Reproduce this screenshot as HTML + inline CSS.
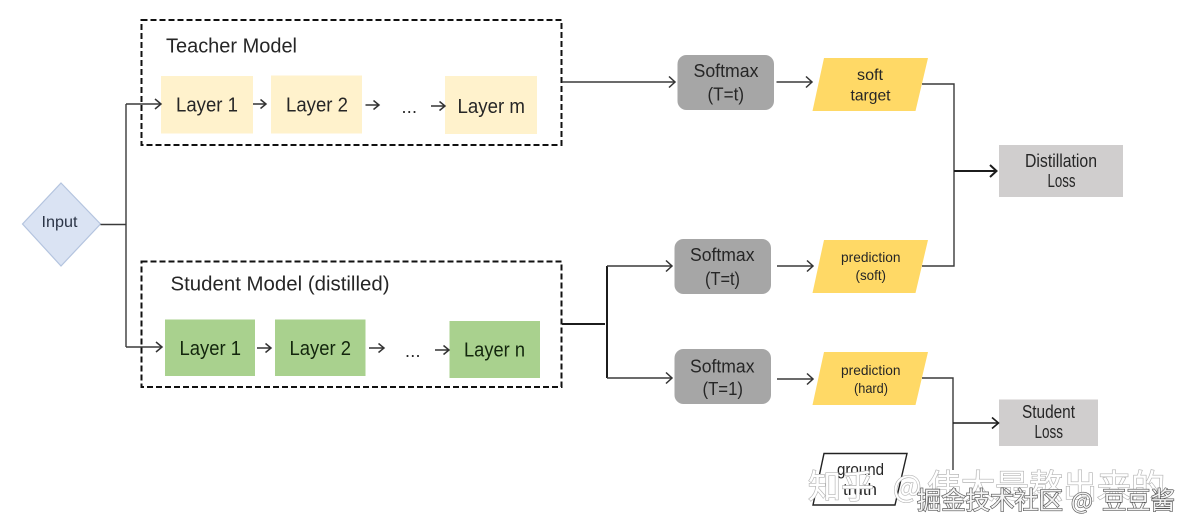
<!DOCTYPE html>
<html><head><meta charset="utf-8">
<style>
html,body{margin:0;padding:0;background:#fff;}
svg{display:block;filter:blur(0.35px);}
text{font-family:"Liberation Sans","Noto Sans CJK SC",sans-serif;fill:#262626;}
.ln{stroke:#3a3a3a;stroke-width:1.4;fill:none;}
.th{stroke:#1c1c1c;stroke-width:2;fill:none;}
.ah{stroke:#333;stroke-width:1.5;fill:none;}
.dash{fill:none;stroke:#111;stroke-width:2;stroke-dasharray:6 3;}
.wm1{fill:#fff;stroke:#b4b4b4;stroke-width:1.3;paint-order:stroke;font-size:33px;font-family:"Noto Sans CJK SC",sans-serif;}
.wm2{fill:#f4f4f4;stroke:#555;stroke-width:1.3;paint-order:stroke;font-size:24.4px;font-family:"Noto Sans CJK SC",sans-serif;}
</style></head>
<body>
<svg width="1193" height="532" viewBox="0 0 1193 532" xmlns="http://www.w3.org/2000/svg">
<rect width="1193" height="532" fill="#fff"/>

<!-- model containers -->
<rect class="dash" x="141.5" y="20" width="420" height="125"/>
<rect class="dash" x="141.5" y="261.5" width="420" height="125.5"/>
<text x="166" y="52.5" font-size="20" textLength="131" lengthAdjust="spacingAndGlyphs">Teacher Model</text>
<text x="170.5" y="290.5" font-size="20" textLength="219" lengthAdjust="spacingAndGlyphs">Student Model (distilled)</text>

<!-- teacher layers -->
<rect x="161" y="76" width="92" height="57.5" fill="#fff2cc"/>
<rect x="271" y="75.5" width="91" height="58" fill="#fff2cc"/>
<rect x="445" y="76" width="92" height="58" fill="#fff2cc"/>
<text x="176" y="111.5" font-size="20" textLength="62" lengthAdjust="spacingAndGlyphs">Layer 1</text>
<text x="286" y="111.5" font-size="20" textLength="62" lengthAdjust="spacingAndGlyphs">Layer 2</text>
<text x="457.5" y="113" font-size="20" textLength="67.5" lengthAdjust="spacingAndGlyphs">Layer m</text>
<text x="401.5" y="113" font-size="18" textLength="15.5" lengthAdjust="spacing">...</text>

<!-- student layers -->
<rect x="165" y="319.5" width="90" height="56.5" fill="#a9d18e"/>
<rect x="275" y="319.5" width="90.5" height="56.5" fill="#a9d18e"/>
<rect x="449.5" y="321" width="90.5" height="57" fill="#a9d18e"/>
<text x="179.5" y="355" font-size="20" textLength="61.5" lengthAdjust="spacingAndGlyphs" style="fill:#13260d">Layer 1</text>
<text x="289.5" y="355" font-size="20" textLength="61.5" lengthAdjust="spacingAndGlyphs" style="fill:#13260d">Layer 2</text>
<text x="464" y="356.5" font-size="20" textLength="61" lengthAdjust="spacingAndGlyphs" style="fill:#13260d">Layer n</text>
<text x="405" y="357" font-size="18" textLength="15.5" lengthAdjust="spacing">...</text>

<!-- input -->
<polygon points="61,183 100.5,224 61,266 22.5,224" fill="#dae3f3" stroke="#b4c4df" stroke-width="1.2"/>
<text x="41.5" y="227" font-size="16" textLength="36" lengthAdjust="spacingAndGlyphs" style="fill:#2b3446">Input</text>

<!-- softmax -->
<rect x="677.5" y="55" width="96.5" height="55" rx="9" fill="#a6a6a6"/>
<rect x="674.5" y="239" width="96.5" height="55" rx="9" fill="#a6a6a6"/>
<rect x="674.5" y="349" width="96.5" height="55" rx="9" fill="#a6a6a6"/>
<text x="693.5" y="77" font-size="18" textLength="65" lengthAdjust="spacingAndGlyphs">Softmax</text>
<text x="707.5" y="100.5" font-size="18" textLength="36.5" lengthAdjust="spacingAndGlyphs">(T=t)</text>
<text x="690" y="261" font-size="18" textLength="64.5" lengthAdjust="spacingAndGlyphs">Softmax</text>
<text x="705" y="285" font-size="18" textLength="35" lengthAdjust="spacingAndGlyphs">(T=t)</text>
<text x="690" y="372.5" font-size="18" textLength="64.5" lengthAdjust="spacingAndGlyphs">Softmax</text>
<text x="702.5" y="395" font-size="18" textLength="40.5" lengthAdjust="spacingAndGlyphs">(T=1)</text>

<!-- parallelograms -->
<polygon points="824,58 928,58 915.5,111 812.5,111" fill="#ffd966"/>
<polygon points="824,240 928,240 915.5,293 812.5,293" fill="#ffd966"/>
<polygon points="824,352 928,352 915.5,405 812.5,405" fill="#ffd966"/>
<text x="857" y="80" font-size="16" textLength="26" lengthAdjust="spacingAndGlyphs">soft</text>
<text x="850.500" y="100.500" font-size="16" textLength="40" lengthAdjust="spacingAndGlyphs">target</text>
<text x="841" y="262" font-size="14" textLength="59.500" lengthAdjust="spacingAndGlyphs">prediction</text>
<text x="855.500" y="280" font-size="14" textLength="30.500" lengthAdjust="spacingAndGlyphs">(soft)</text>
<text x="841" y="375" font-size="14" textLength="59.500" lengthAdjust="spacingAndGlyphs">prediction</text>
<text x="854" y="393" font-size="14" textLength="34" lengthAdjust="spacingAndGlyphs">(hard)</text>

<!-- losses -->
<rect x="999" y="145" width="124" height="52" fill="#d0cece"/>
<rect x="999" y="399.500" width="99" height="46.500" fill="#d0cece"/>
<text x="1025" y="167" font-size="18" textLength="72" lengthAdjust="spacingAndGlyphs">Distillation</text>
<text x="1047.500" y="187" font-size="18" textLength="28" lengthAdjust="spacingAndGlyphs">Loss</text>
<text x="1022" y="418" font-size="18" textLength="53" lengthAdjust="spacingAndGlyphs">Student</text>
<text x="1034.500" y="438" font-size="18" textLength="28.500" lengthAdjust="spacingAndGlyphs">Loss</text>

<!-- connectors -->
<path class="ln" d="M100.500 224.500H126M126 104V347M126 104H160M126 347H161"/>
<path class="ah" d="M155 99l6 5-6 5M156 342l6 5-6 5"/>
<path class="ah" d="M253 104H266M260.500 99.500l5.500 4.500-5.500 4.500M365.500 105H379M373.500 100.500l5.500 4.500-5.500 4.500M431 106H445M439.500 101.500l5.500 4.500-5.500 4.500"/>
<path class="ah" d="M257 348H271M265.500 343.500l5.500 4.500-5.500 4.500M369 348H384M378.500 343.500l5.500 4.500-5.500 4.500M435 350H449M443.500 345.500l5.500 4.500-5.500 4.500"/>
<path class="ln" d="M562 82H675"/><path class="ah" d="M669 76.500l6 5.500-6 5.500"/>
<path class="ln" d="M776.500 82H812"/><path class="ah" d="M806 76.500l6 5.500-6 5.500"/>
<path class="ln" d="M777 266H813"/><path class="ah" d="M807 260.500l6 5.500-6 5.500"/>
<path class="ln" d="M777 379H813"/><path class="ah" d="M807 373.500l6 5.500-6 5.500"/>
<path class="ln" d="M922 84H954V266H922"/>
<path class="th" d="M954 171H996"/><path class="th" d="M990 165l6.500 6-6.500 6"/>
<path class="ln" d="M922 378H953V470"/>
<path class="th" style="stroke-width:1.6" d="M953 423H998"/><path class="th" style="stroke-width:1.6" d="M992 417.500l6.500 5.500-6.500 5.500"/>
<path class="th" d="M562 324H605M607 266V378"/>
<path class="ln" d="M607 266H672M607 378H672"/>
<path class="ah" d="M666 260.500l6 5.500-6 5.500M666 372.500l6 5.500-6 5.500"/>

<!-- ground truth -->
<polygon points="824,453.500 907,453.500 895,505 813,505" fill="#fff" stroke="#222" stroke-width="1.4"/>
<text x="837" y="475" font-size="16.500" textLength="47" lengthAdjust="spacingAndGlyphs">ground</text>
<text x="843" y="495" font-size="16.500" textLength="34" lengthAdjust="spacingAndGlyphs">truth</text>

<!-- watermarks -->
<text class="wm1" x="808" y="498">知乎</text>
<text class="wm1" x="893" y="497" style="font-size:30px">@</text>
<text class="wm1" x="927" y="498" textLength="238" lengthAdjust="spacingAndGlyphs">伟大是熬出来的</text>
<text class="wm2" x="917" y="509" textLength="146" lengthAdjust="spacingAndGlyphs">掘金技术社区</text>
<text class="wm2" x="1071" y="509" style="font-size:23px">@</text>
<text class="wm2" x="1102" y="509" textLength="73" lengthAdjust="spacingAndGlyphs">豆豆酱</text>
</svg>
</body></html>
